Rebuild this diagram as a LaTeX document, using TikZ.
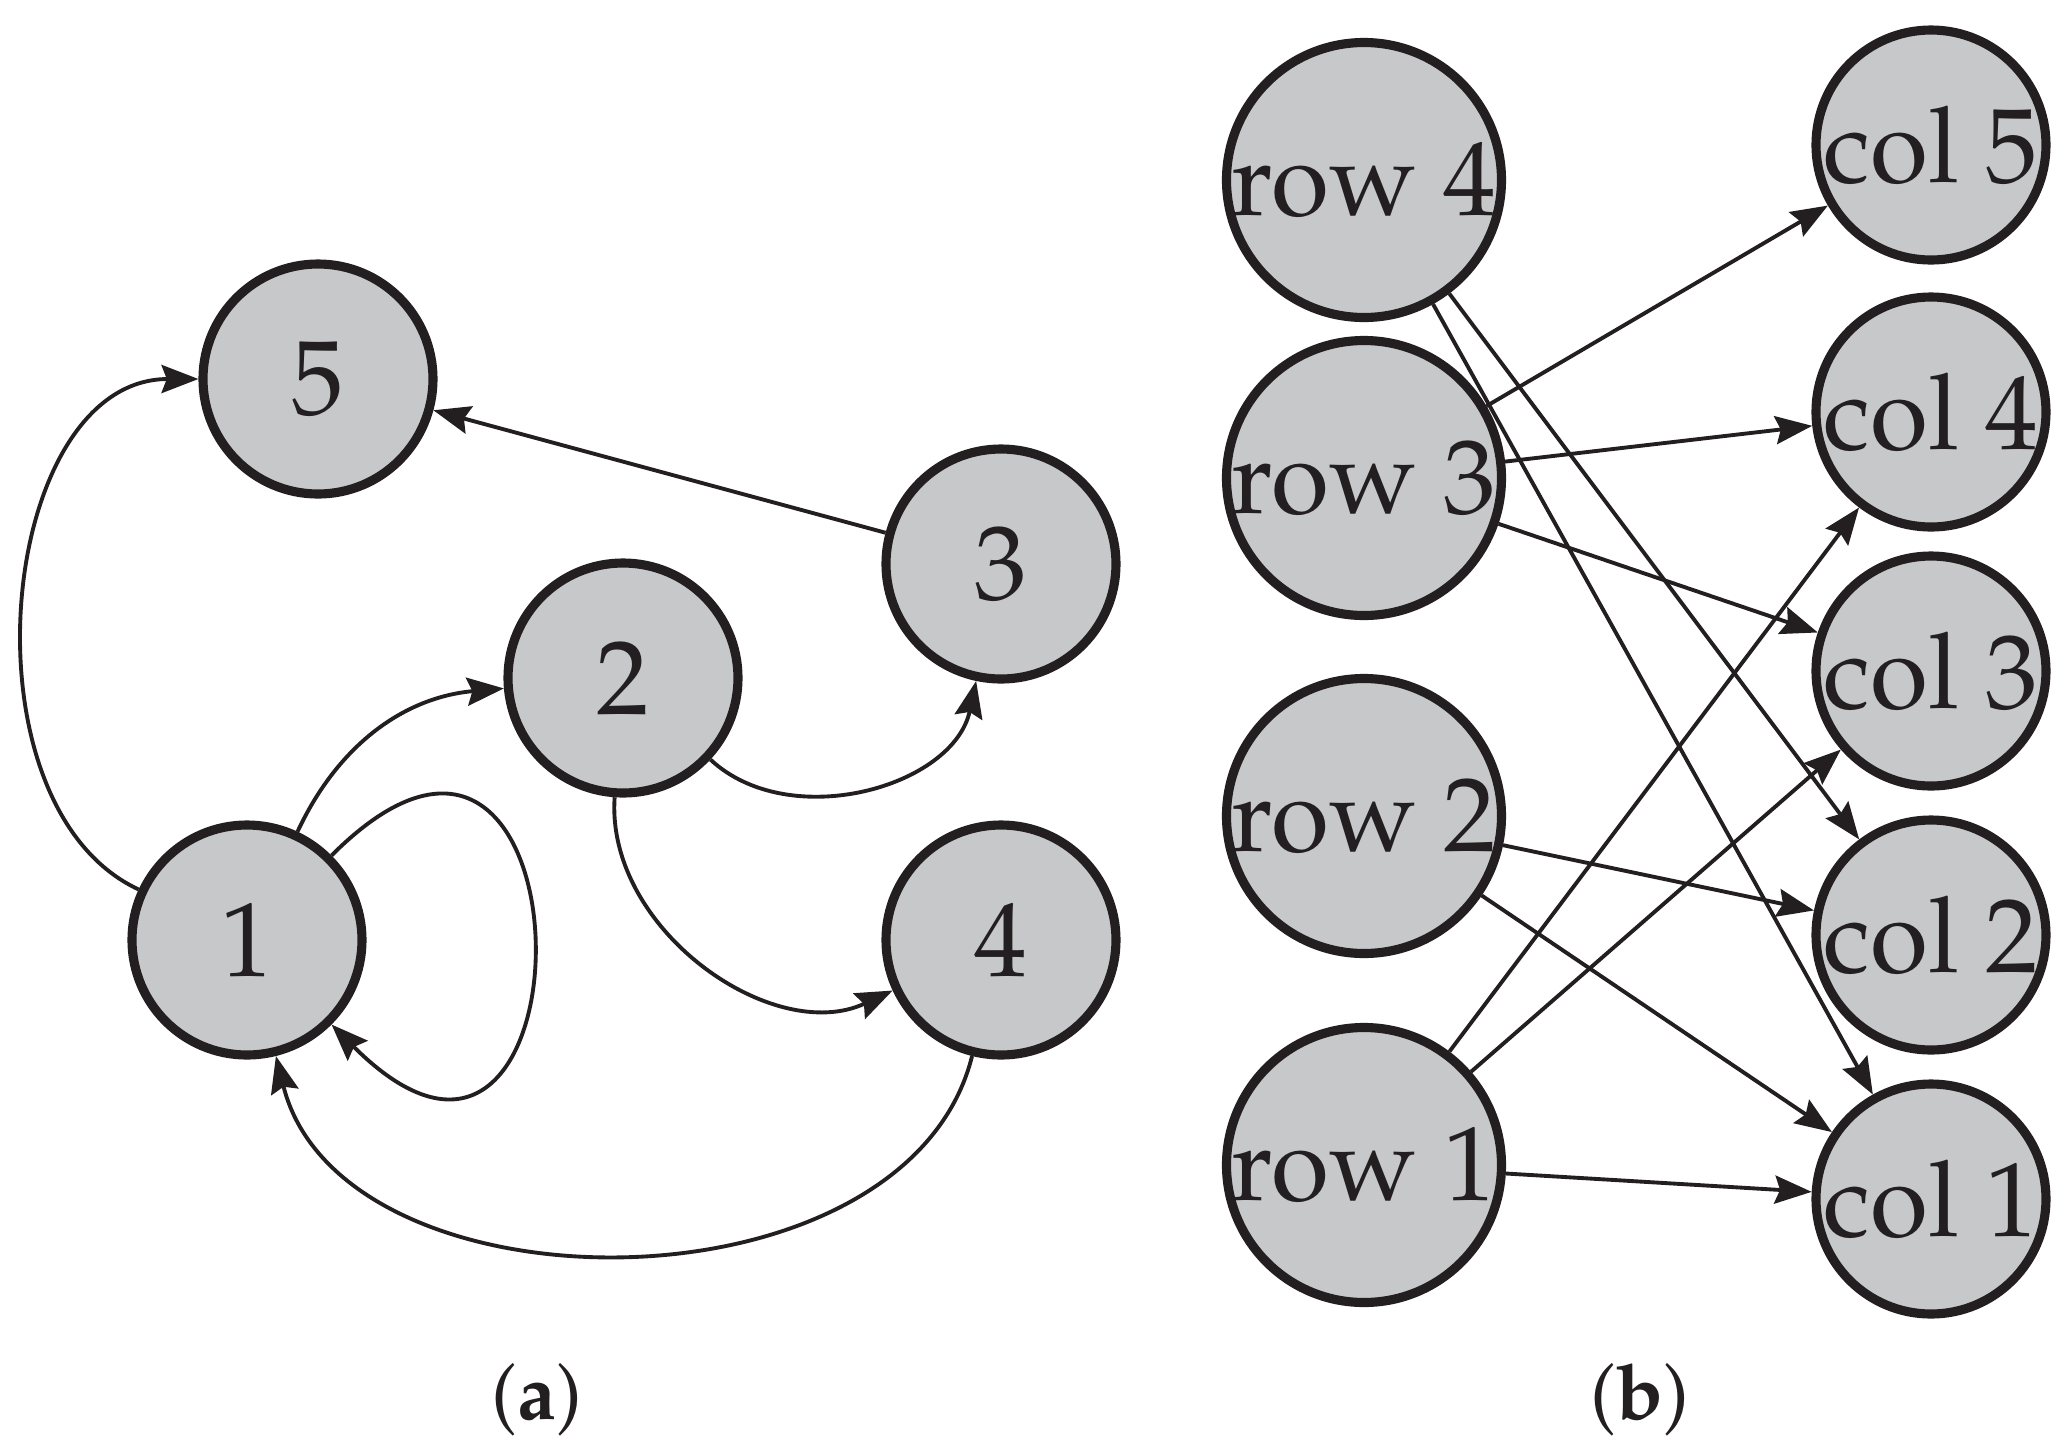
\documentclass[tikz,border=0pt]{standalone}
\usepackage[T1]{fontenc}
\usepackage{mathpazo}
\usetikzlibrary{arrows.meta}

\definecolor{nodefill}{RGB}{199,200,202}
\definecolor{ink}{RGB}{35,31,32}

\begin{document}
\begin{tikzpicture} [every node/.style={circle,draw=ink,fill=nodefill,line width=2.6pt,inner sep=0pt,text=ink,font=\fontsize{30}{36}\selectfont},
	vtx/.style={minimum size=2.30cm},
	bigvtx/.style={minimum size=2.75cm},
	arr/.style={-{Stealth[length=10.5pt,width=8pt,inset=1.5pt]},line width=1.1pt,draw=ink},
	caption/.style={draw=none,fill=none,font=\fontsize{22}{26}\selectfont}]

\useasboundingbox (0,0) rectangle (20.71,-14.51);

% (a)
\foreach \n/\x/\y in {1/2.47/-9.40,2/6.23/-6.78,3/10.01/-5.64,4/10.01/-9.40,5/3.18/-3.79}{
	\node[vtx] (\n) at (\x,\y) {\n};
}
\draw[arr] (1) to[out=155,in=180] (5);
\draw[arr] (1) to[out=65,in=185] (2);
\draw[arr] (1) to[out=45,in=-45,distance=3.8cm] (1);
\draw[arr] (2) to[out=-43,in=-102] (3);
\draw[arr] (2) to[out=-94,in=-155] (4);
\draw[arr] (4) to[out=-104,in=-76] (1);
\draw[arr] (3) -- (5);
\node[caption] (capa) at (5.37,-14.00) {(\textbf{a})};

% (b)
\foreach \n/\y in {1/-11.65,2/-8.16,3/-4.78,4/-1.80}{
	\node[bigvtx] (r\n) at (13.64,\y) {row \n};
}
\foreach \n/\y in {1/-11.99,2/-9.35,3/-6.71,4/-4.12,5/-1.45}{
	\node[vtx] (c\n) at (19.31,\y) {col \n};
}
\foreach \a/\b in {4/2,4/1,3/5,3/4,3/3,2/2,2/1,1/4,1/3,1/1}{
	\draw[arr] (r\a) -- (c\b);
}
\node[caption] (capb) at (16.40,-14.00) {(\textbf{b})};

\end{tikzpicture}
\end{document}
